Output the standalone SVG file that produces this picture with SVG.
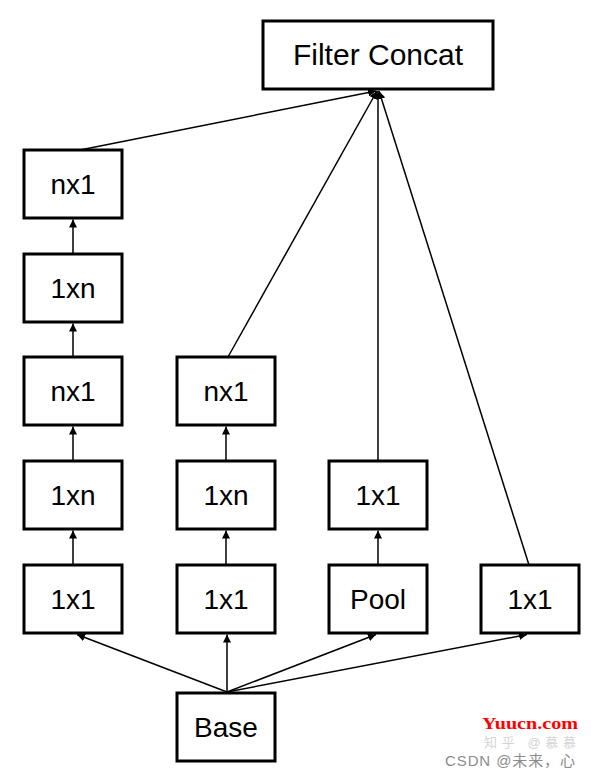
<svg xmlns="http://www.w3.org/2000/svg" width="591" height="778" viewBox="0 0 591 778">
<style>
.box{fill:#fff;stroke:#000;stroke-width:3}
.lbl{font-family:"Liberation Sans",Arial,sans-serif;font-size:28px;fill:#000;text-anchor:middle}
.edge{stroke:#000;stroke-width:1.5;fill:none;marker-end:url(#ah)}
</style>
<defs>
<marker id="ah" markerUnits="userSpaceOnUse" markerWidth="9" markerHeight="8" refX="8" refY="4" orient="auto">
<path d="M0,0 L8,4 L0,8 z" fill="#000"/>
</marker>
</defs>
<rect width="591" height="778" fill="#fff"/>
<g id="connectors">
<line class="edge" x1="80" y1="150" x2="376" y2="91"/>
<line class="edge" x1="228" y1="357" x2="377" y2="91"/>
<line class="edge" x1="378" y1="461" x2="378" y2="91"/>
<line class="edge" x1="529" y1="565" x2="379" y2="91"/>
<line class="edge" x1="73" y1="254" x2="73" y2="219.5"/>
<line class="edge" x1="73" y1="357" x2="73" y2="323.5"/>
<line class="edge" x1="73" y1="461" x2="73" y2="426.5"/>
<line class="edge" x1="73" y1="565" x2="73" y2="530.5"/>
<line class="edge" x1="226" y1="461" x2="226" y2="426.5"/>
<line class="edge" x1="226" y1="565" x2="226" y2="530.5"/>
<line class="edge" x1="378" y1="565" x2="378" y2="530.5"/>
<line class="edge" x1="227" y1="692" x2="77" y2="634.5"/>
<line class="edge" x1="227" y1="692" x2="227" y2="634.5"/>
<line class="edge" x1="227" y1="692" x2="376" y2="634.5"/>
<line class="edge" x1="227" y1="692" x2="527" y2="634.5"/>
</g>
<g id="filter-concat"><rect class="box" x="263" y="21" width="230" height="68"/><text class="lbl" x="378" y="65" style="font-size:30px">Filter Concat</text></g>
<g id="c1-nx1-top"><rect class="box" x="24" y="150" width="98" height="68"/><text class="lbl" x="73" y="194">nx1</text></g>
<g id="c1-1xn-top"><rect class="box" x="24" y="254" width="98" height="68"/><text class="lbl" x="73" y="298">1xn</text></g>
<g id="c1-nx1"><rect class="box" x="24" y="357" width="98" height="68"/><text class="lbl" x="73" y="401">nx1</text></g>
<g id="c1-1xn"><rect class="box" x="24" y="461" width="98" height="68"/><text class="lbl" x="73" y="505">1xn</text></g>
<g id="c1-1x1"><rect class="box" x="24" y="565" width="98" height="68"/><text class="lbl" x="73" y="609">1x1</text></g>
<g id="c2-nx1"><rect class="box" x="177" y="357" width="98" height="68"/><text class="lbl" x="226" y="401">nx1</text></g>
<g id="c2-1xn"><rect class="box" x="177" y="461" width="98" height="68"/><text class="lbl" x="226" y="505">1xn</text></g>
<g id="c2-1x1"><rect class="box" x="177" y="565" width="98" height="68"/><text class="lbl" x="226" y="609">1x1</text></g>
<g id="c3-1x1"><rect class="box" x="329" y="461" width="98" height="68"/><text class="lbl" x="378" y="505">1x1</text></g>
<g id="c3-pool"><rect class="box" x="329" y="565" width="98" height="68"/><text class="lbl" x="378" y="609">Pool</text></g>
<g id="c4-1x1"><rect class="box" x="481" y="565" width="98" height="68"/><text class="lbl" x="530" y="609">1x1</text></g>
<g id="base"><rect class="box" x="177" y="693" width="98" height="68"/><text class="lbl" x="226" y="737">Base</text></g>
<g id="watermarks">
<text x="482" y="729" font-family="Liberation Serif,serif" font-size="17" font-weight="bold" fill="#ff0000" textLength="96" lengthAdjust="spacingAndGlyphs">Yuucn.com</text>
<text x="484" y="747" font-family="Liberation Sans,'Noto Sans CJK SC',sans-serif" font-size="13" fill="#d4d4d4" textLength="92">知乎 @慕慕</text>
<text x="445" y="766" font-family="Liberation Sans,'Noto Sans CJK SC',sans-serif" font-size="15" fill="#8c8c8c" textLength="130">CSDN @未来，心</text>
</g>
</svg>
